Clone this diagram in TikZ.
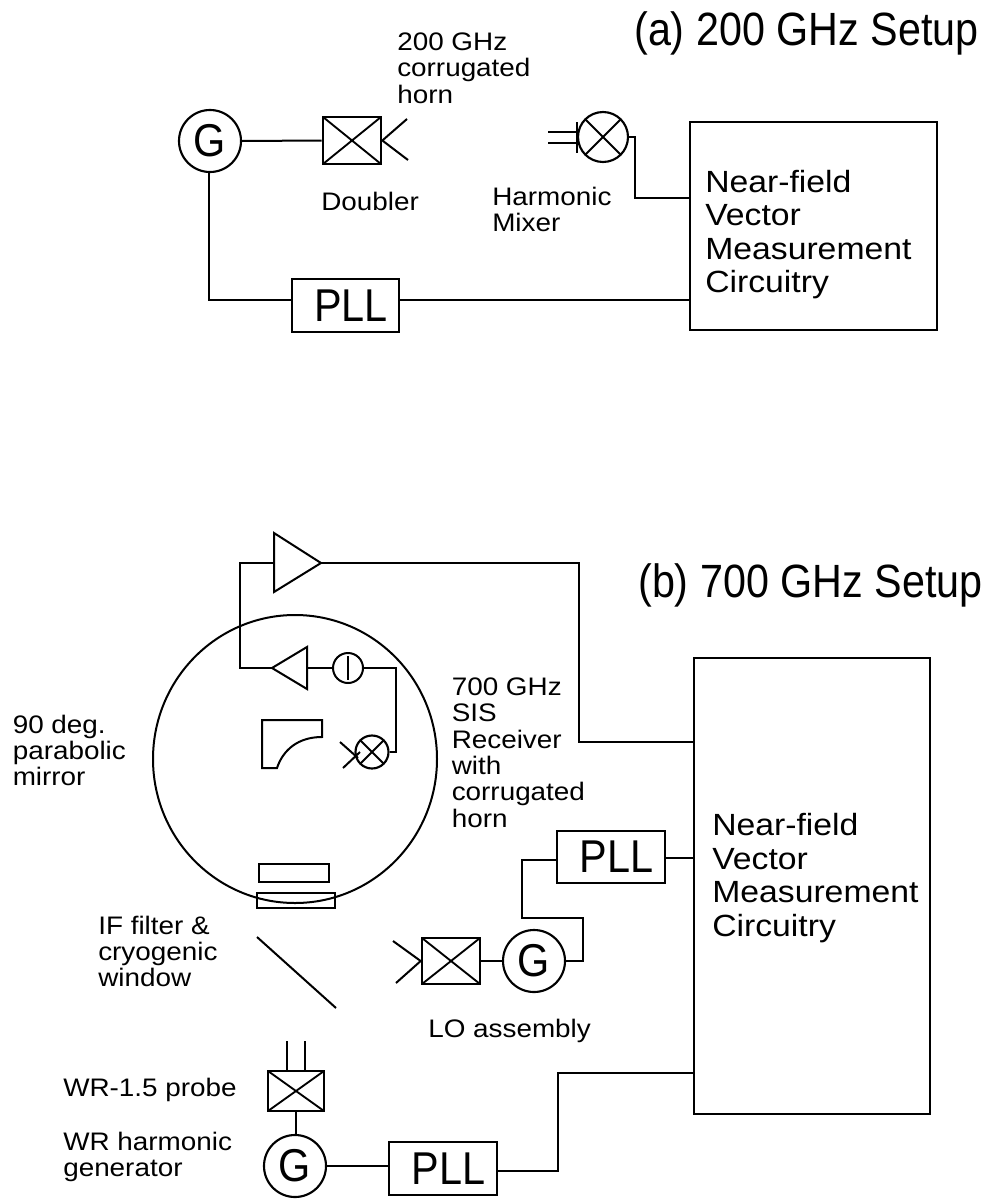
\documentclass[tikz,border=0pt]{standalone}
\usepackage{fontspec}
\setmainfont{Liberation Sans}
\newfontfamily\smallf[FakeStretch=1.1]{Liberation Sans}
\newfontfamily\condf[FakeStretch=0.9]{Liberation Sans}
\newfontfamily\titlef[FakeStretch=0.885]{Liberation Sans}
\usetikzlibrary{calc,shapes.geometric}
\tikzset{
  wire/.style={line width=1.5pt,line join=miter},
  thinw/.style={line width=1.3pt},
  box/.style n args={2}{draw,line width=1.5pt,inner sep=0pt,minimum width=#1*0.75pt,minimum height=#2*0.75pt},
  xbox/.style n args={2}{draw,line width=2pt,inner sep=0pt,minimum width=#1*0.75pt,minimum height=#2*0.75pt,
    path picture={\draw[line width=1.4pt] (path picture bounding box.north west)--(path picture bounding box.south east)
      (path picture bounding box.north east)--(path picture bounding box.south west);}},
  gen/.style={draw,circle,line width=1.6pt,inner sep=0pt,minimum size=62*0.75pt,font=\condf\fontsize{34.5}{34.5}\selectfont},
  mix/.style={draw,circle,line width=1.6pt,inner sep=0pt,minimum size=#1*0.75pt,
    path picture={\draw[line width=1.4pt] (path picture bounding box.north west)--(path picture bounding box.south east)
      (path picture bounding box.north east)--(path picture bounding box.south west);}},
  plltxt/.style={font=\condf\fontsize{34.5}{34.5}\selectfont},
  lab/.style={anchor=north west,inner sep=0pt,align=left,font=\smallf\fontsize{19}{19.8}\selectfont,
    execute at begin node={\rule{0pt}{19pt}}},
  big/.style={anchor=north west,inner sep=0pt,align=left,font=\smallf\fontsize{23}{25.2}\selectfont,
    execute at begin node={\rule{0pt}{23pt}}},
  title/.style={anchor=base west,inner sep=0pt,font=\titlef\fontsize{35}{35}\selectfont},
}
\begin{document}
\begin{tikzpicture}[x=0.75pt,y=-0.75pt]
\useasboundingbox (0,0) rectangle (991,1199);
% ---- (a)
\node[title] (ta) at (634,45.5) {(a) 200 GHz Setup};
\node[gen] (g1) at (210,141) {G};
\node[xbox={58}{47}] (d1) at (352,140.5) {};
\coordinate (h1a) at (407,119);
\coordinate (h1b) at (408,160);
\draw[wire] (h1a) -- (d1.east) -- (h1b);
\draw[wire] (g1.east) -- (d1.west);
\node[mix=50] (m1) at (603,137) {};
\coordinate (m1bt) at (577,122);
\coordinate (m1bb) at (577,153);
\draw[wire] (m1bt) -- (m1bb);
\coordinate (m1l1) at (548,132);
\coordinate (m1l2) at (548,143);
\draw[wire] (m1l1) -- (577,132) (m1l2) -- (577,143);
\node[box={247}{208}] (c1) at (813.5,226) {};
\coordinate (c1j) at (635,198);
\draw[wire] (m1.east) -- (635,137) -- (c1j) -- (c1.west |- c1j);
\node[box={107}{53},plltxt] (p1) at (345.5,305.5) {\hspace*{8pt}PLL};
\draw[wire] (p1.east |- 0,300) -- (c1.west |- 0,300);
\draw[wire] (g1.south -| 209,0) -- (209,300) -- (p1.west |- 0,300);
\node[lab] (l1) at (397,32.4) {200 GHz\\corrugated\\horn};
\node[lab] (l2) at (321,184.7) {Doubler};
\node[lab] (l3) at (492,186.4) {Harmonic\\Mixer};
\node[big] (l4) at (705,169.7) {Near-field\\Vector\\Measurement\\Circuitry};
% ---- (b)
\node[title] (tb) at (638,597) {(b) 700 GHz Setup};
\coordinate (a1t) at (274,533);
\coordinate (a1b) at (274,592);
\coordinate (a1o) at (321,563);
\draw[wire] (a1t) -- (a1o) -- (a1b) -- cycle;
\node[draw,ellipse,line width=1.5pt,inner sep=0pt,minimum width=284*0.75pt,minimum height=288*0.75pt] (cry) at (295,759) {};
\coordinate (a2t) at (307,647);
\coordinate (a2b) at (307,689);
\coordinate (a2o) at (272,668);
\draw[wire] (a2t) -- (a2o) -- (a2b) -- cycle;
\draw[wire] (a1t |- a1o) -- (239.5,563) -- (239.5,668) -- (a2o);
\node[draw,circle,line width=1.5pt,inner sep=0pt,minimum size=30*0.75pt] (i1) at (348,668) {};
\draw[wire] (348,656) -- (348,680);
\draw[wire] (i1.west) -- (a2t |- i1.west);
\node[mix=33] (m2) at (372,752) {};
\draw[wire] (i1.east) -- (395.5,668) -- (395.5,752) -- (m2.east);
\coordinate (h2a) at (340,742);
\coordinate (h2b) at (343,768);
\draw[wire] (h2a) -- (358,758) (h2b) -- (360,752);
\draw[wire] (262,720) -- (322,720) -- (322,737) .. controls (298,737) and (283,750) .. (277,768) -- (262,768) -- cycle;
\node[box={70}{18}] (f1) at (294,873) {};
\node[box={78}{15}] (w1) at (296,900.5) {};
\coordinate (s1) at (257,937);
\coordinate (s2) at (336,1008);
\draw[wire] (s1) -- (s2);
\node[xbox={58}{46}] (d2) at (451,961) {};
\coordinate (h3a) at (393,941);
\coordinate (h3b) at (396,983);
\draw[wire] (h3a) -- (d2.west) -- (h3b);
\node[gen] (g2) at (534,961) {G};
\draw[wire] (d2.east) -- (g2.west);
\node[box={108}{52},plltxt] (p2) at (611,857) {\hspace*{8pt}PLL};
\node[box={236}{456}] (c2) at (812,886) {};
\draw[wire] (g2.east) -- (583,961) -- (583,918) -- (522,918) -- (522,860) -- (p2.west |- 0,860);
\draw[wire] (p2.east |- 0,858) -- (c2.west |- 0,858);
\draw[wire] (a1o) -- (579,563) -- (579,742) -- (c2.west |- 0,742);
\node[xbox={56}{40}] (d3) at (296,1091) {};
\draw[thinw] (287,1041) -- (d3.north -| 287,0) (305,1041) -- (d3.north -| 305,0);
\node[gen] (g3) at (295,1166) {G};
\draw[wire] (d3.south) -- (d3.south |- g3.north);
\node[box={108}{53},plltxt] (p3) at (443,1168.5) {\hspace*{8pt}PLL};
\draw[wire] (g3.east) -- (g3.east -| p3.west);
\draw[wire] (p3.east |- 0,1171) -- (558,1171) -- (558,1073) -- (c2.west |- 0,1073);
\node[lab] (l5) at (12.5,714.4) {90 deg.\\parabolic\\mirror};
\node[lab] (l6) at (451.5,677.4) {700 GHz\\SIS\\Receiver\\with\\corrugated\\horn};
\node[lab] (l7) at (98,915.4) {IF filter \&\\cryogenic\\window};
\node[lab] (l8) at (428,1011.7) {LO assembly};
\node[lab] (l9) at (63,1070.7) {WR-1.5 probe};
\node[lab] (l10) at (63,1131.4) {WR harmonic\\generator};
\node[big] (l11) at (712,813) {Near-field\\Vector\\Measurement\\Circuitry};
\end{tikzpicture}
\end{document}
